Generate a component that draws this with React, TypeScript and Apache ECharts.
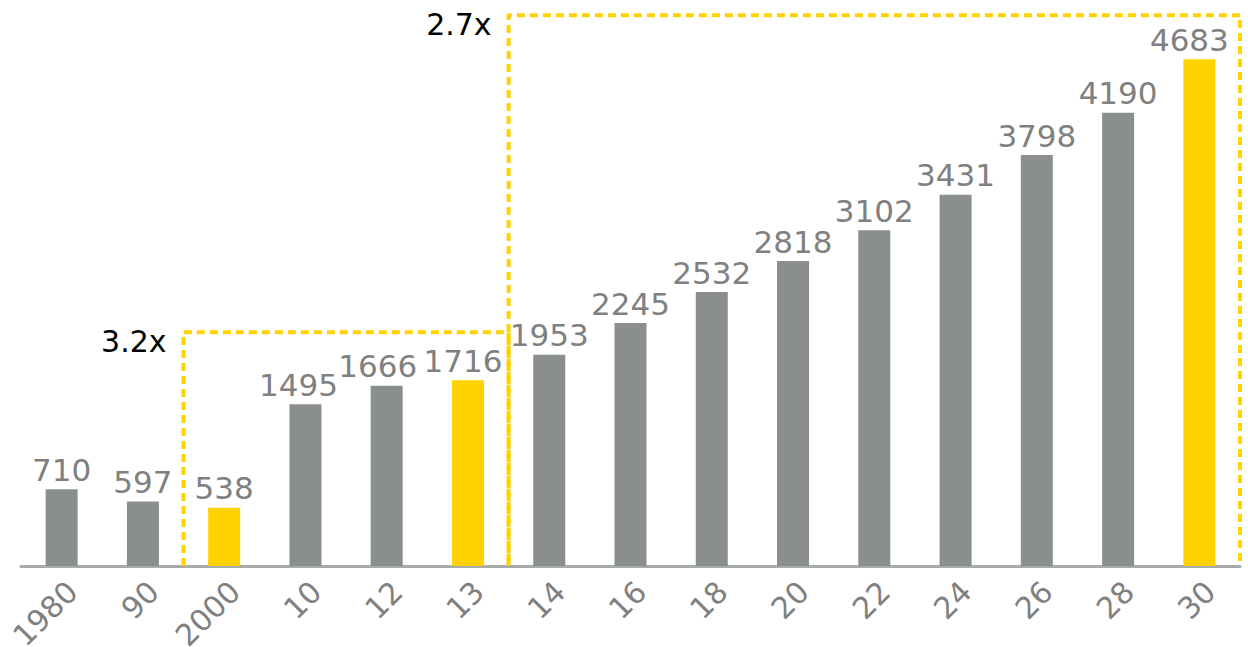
import React, { useEffect, useRef } from "react";
import * as echarts from "echarts";

const categories = ["1980", "90", "2000", "10", "12", "13", "14", "16", "18", "20", "22", "24", "26", "28", "30"];
const values = [710, 597, 538, 1495, 1666, 1716, 1953, 2245, 2532, 2818, 3102, 3431, 3798, 4190, 4683];
const highlighted = ["2000", "13", "30"];
// growth boxes: span from the gap after `after` to the gap after `to`, top at value `top`
const boxes = [
  { after: "90", to: "13", top: 2160, label: "3.2x" },
  { after: "13", to: "30", top: 5090, label: "2.7x" },
];

const GRAY = "#8b8e8e";
const YELLOW = "#ffd200";
const TEXT_GRAY = "#808080";
const FONT = "'DejaVu Sans', Verdana, sans-serif";
// small horizontal nudges of some value labels (style only)
const labelNudge: Record<string, number> = { "10": -7, "12": -9, "13": -5, "30": -10 };

export default function App() {
  const ref = useRef<HTMLDivElement>(null);
  useEffect(() => {
    if (!ref.current) return;
    const chart = echarts.init(ref.current, undefined, { renderer: "svg" });
    chart.setOption({
      animation: false,
      grid: { left: 21, right: 8, top: 25, bottom: 81, containLabel: false, outerBoundsMode: "none" },
      xAxis: {
        type: "category",
        data: categories,
        axisTick: { show: false },
        axisLine: { lineStyle: { color: "#a8abab", width: 3 } },
        axisLabel: {
          interval: 0,
          rotate: 45,
          color: TEXT_GRAY,
          fontSize: 30,
          fontFamily: FONT,
          verticalAlign: "top",
          margin: 10,
        },
      },
      yAxis: { type: "value", min: 0, max: 5000, show: false, splitLine: { show: false } },
      series: [
        {
          type: "bar",
          barWidth: 32,
          data: values.map((v, i) => ({
            value: v,
            itemStyle: { color: highlighted.includes(categories[i]) ? YELLOW : GRAY },
            label: { offset: [labelNudge[categories[i]] || 0, 0] },
          })),
          label: {
            show: true,
            position: "top",
            distance: 4,
            color: TEXT_GRAY,
            fontSize: 31,
            fontFamily: FONT,
          },
        },
      ],
    });

    const xc = (i: number) => chart.convertToPixel({ xAxisIndex: 0 }, i) as number;
    const yv = (v: number) => chart.convertToPixel({ yAxisIndex: 0 }, v) as number;
    const half = (xc(1) - xc(0)) / 2;
    const base = yv(0);
    const graphic: any[] = [];
    boxes.forEach((b) => {
      const x1 = xc(categories.indexOf(b.after)) + half;
      const x2 = xc(categories.indexOf(b.to)) + half;
      const yt = yv(b.top);
      graphic.push({
        type: "polyline",
        z: 10,
        shape: { points: [[x1, base], [x1, yt], [x2, yt], [x2, base]] },
        style: { stroke: YELLOW, lineWidth: 4, lineDash: [8, 5], lineJoin: "round", fill: null },
      });
      graphic.push({
        type: "text",
        z: 10,
        x: x1 - 17,
        y: yt + 9,
        style: {
          text: b.label,
          fill: "#000",
          fontSize: 30,
          fontFamily: FONT,
          align: "right",
          verticalAlign: "middle",
        },
      });
    });
    chart.setOption({ graphic });

    return () => chart.dispose();
  }, []);
  return (
    <div
      ref={ref}
      style={{ position: "absolute", left: 0, top: 0, width: 1248, height: 647, background: "#fff" }}
    />
  );
}
